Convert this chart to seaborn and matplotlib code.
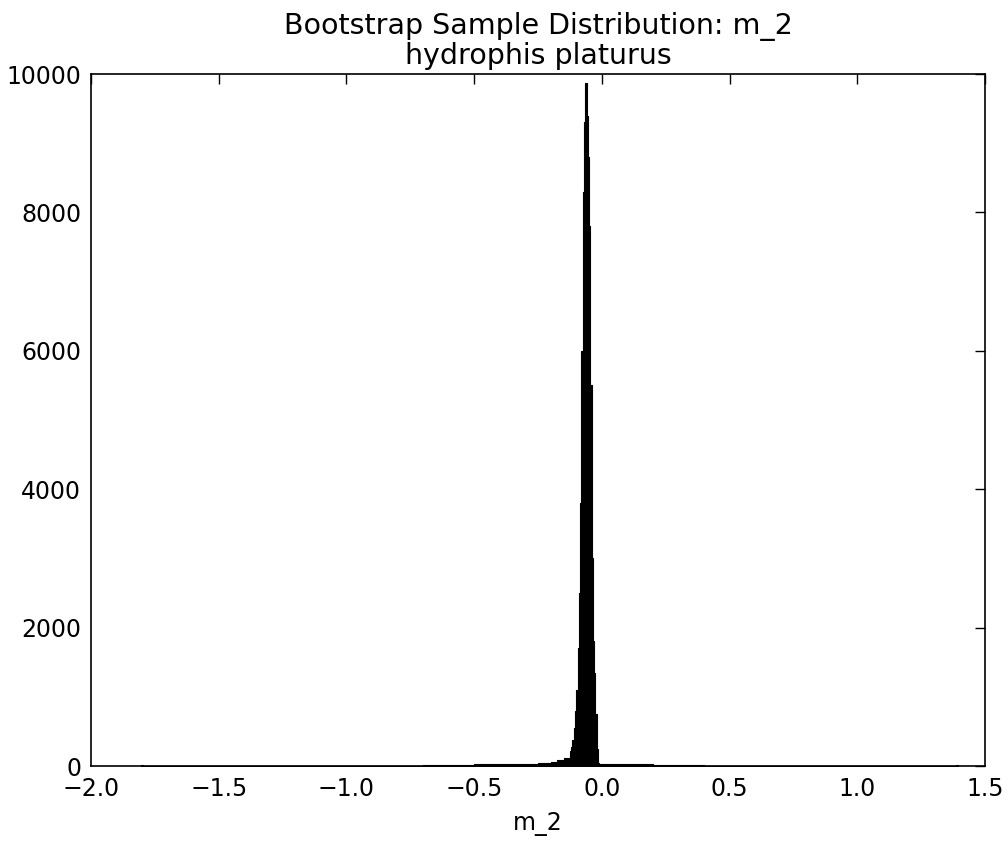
import numpy as np
import pandas as pd
import matplotlib
matplotlib.use("Agg")
import matplotlib.pyplot as plt
import seaborn as sns

# ---- data ----
bin_edges = [
    -1.805, -1.795,
    -0.70, -0.60, -0.50, -0.40, -0.30, -0.25, -0.20, -0.175, -0.15,
    -0.125, -0.120, -0.115, -0.110, -0.105, -0.100, -0.095, -0.090,
    -0.085, -0.080, -0.075, -0.070, -0.065, -0.060, -0.055, -0.050,
    -0.045, -0.040, -0.035, -0.030, -0.025, -0.020, -0.015, -0.010,
    0.00, 0.10, 0.20, 0.30, 0.40,
    1.385, 1.395,
]
bin_counts = [
    12, 0,
    15, 20, 24, 27, 32, 45, 60, 80, 120,
    210, 280, 380, 550, 800, 1100, 1700, 2500,
    3800, 6000, 8300, 9300, 9870, 9400, 8800, 7800,
    5500, 3000, 1800, 1350, 750, 250, 40,
    30, 25, 22, 18, 12,
    0, 12,
]

title_lines = ["Bootstrap Sample Distribution: m_2", "hydrophis platurus"]
x_label = "m_2"
x_ticks = [-2.0, -1.5, -1.0, -0.5, 0.0, 0.5, 1.0, 1.5]
y_ticks = [0, 2000, 4000, 6000, 8000, 10000]

edges = np.asarray(bin_edges, dtype=float)
centers = (edges[:-1] + edges[1:]) / 2.0
df = pd.DataFrame({"m_2": centers, "count": bin_counts})

# ---- style ----
sns.set_theme(style="white")
plt.rcParams["font.family"] = ["DejaVu Sans"]
plt.rcParams["axes.edgecolor"] = "black"
plt.rcParams["axes.linewidth"] = 1.2

fig = plt.figure(figsize=(10.08, 8.43), dpi=100)
fig.patch.set_facecolor("white")
ax = fig.add_axes([91 / 1008, 1 - 766 / 843, (985 - 91) / 1008, (766 - 74) / 843])

sns.histplot(
    data=df, x="m_2", weights="count", bins=list(bin_edges), stat="count",
    element="step", fill=True,
    color="black", edgecolor="black", linewidth=0.8, alpha=1.0, ax=ax,
)

ax.set_xlim(-2.0, 1.5)
ax.set_ylim(0, 10000)
ax.set_xticks(x_ticks)
ax.set_xticklabels([f"{t:.1f}".replace("-", "\u2212") for t in x_ticks])
ax.set_yticks(y_ticks)
ax.set_yticklabels([str(t) for t in y_ticks])
ax.tick_params(axis="both", which="major", direction="in", length=7, width=1,
               top=True, right=True, labelsize=17, colors="black", pad=7)
ax.tick_params(axis="x", pad=8)
ax.set_xlabel(x_label, fontsize=17, color="black", labelpad=8)
ax.set_ylabel("")
ax.set_title("\n".join(title_lines), fontsize=20.5, color="black", pad=7,
             linespacing=1.05)
for s in ax.spines.values():
    s.set_visible(True)
    s.set_color("black")

fig.savefig("out.png", dpi=100, facecolor="white")
